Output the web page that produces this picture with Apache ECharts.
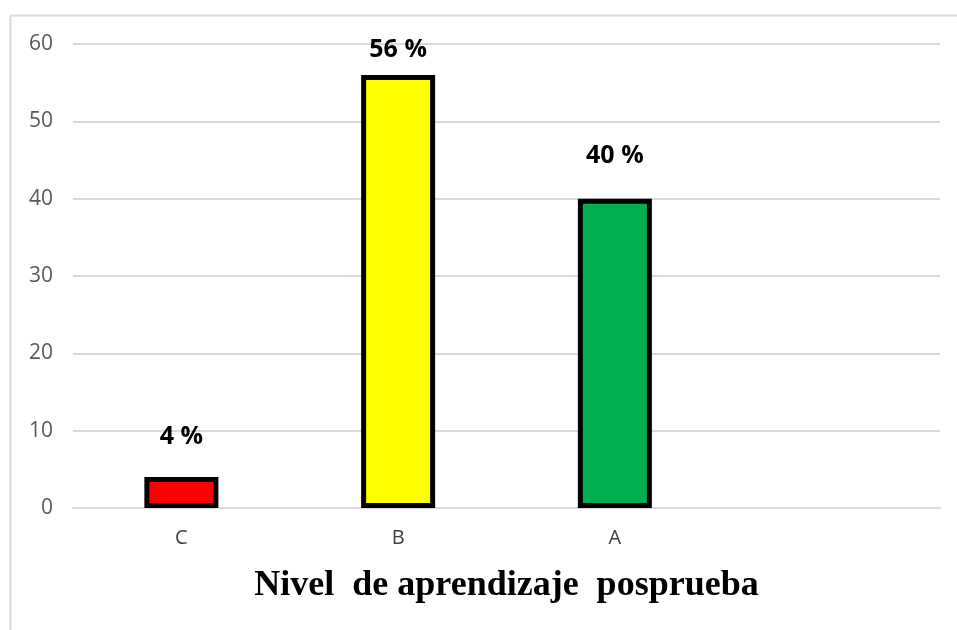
<!DOCTYPE html>
<html>
<head>
<meta charset="utf-8">
<script src="https://cdn.jsdelivr.net/npm/echarts@6/dist/echarts.min.js"></script>
<style>
html,body{margin:0;padding:0;background:#fff;}
#chart{width:957px;height:630px;}
</style>
</head>
<body>
<div id="chart"></div>
<script>
const categories = ['C', 'B', 'A', ''];
const values = [4, 56, 40, null];
const barColors = ['#FF0000', '#FFFF00', '#00B050', '#FFFFFF'];
const labelTexts = ['4 %', '56 %', '40 %', ''];
const yTicks = { min: 0, max: 60, interval: 10 };
const axisTitle = 'Nivel  de aprendizaje  posprueba';

const chart = echarts.init(document.getElementById('chart'), null, { renderer: 'canvas' });
const labelDistances = [28, 13, 30, 0];

chart.setOption({
  animation: false,
  backgroundColor: '#ffffff',
  graphic: [{
    type: 'rect',
    left: 8, top: 13,
    shape: { width: 960, height: 630 },
    style: { fill: 'none', stroke: '#D9D9D9', lineWidth: 2 },
    silent: true
  }],
  grid: { left: 73, right: 17, top: 44, bottom: 122, containLabel: false },
  xAxis: {
    type: 'category',
    data: categories,
    axisLine: { show: true, lineStyle: { color: '#D9D9D9', width: 2 } },
    axisTick: { show: false },
    axisLabel: { color: '#404040', fontSize: 20, fontFamily: 'Open Sans, Noto Sans, sans-serif', margin: 20 },
    name: axisTitle,
    nameLocation: 'middle',
    nameGap: 60,
    nameTextStyle: { color: '#000', fontSize: 36, fontWeight: 'bold', fontFamily: 'Liberation Serif, Times New Roman, serif' }
  },
  yAxis: {
    type: 'value',
    min: yTicks.min, max: yTicks.max, interval: yTicks.interval,
    axisLine: { show: false },
    axisTick: { show: false },
    axisLabel: { color: '#595959', fontSize: 21, fontFamily: 'Open Sans, Noto Sans, sans-serif', margin: 20 },
    splitLine: { lineStyle: { color: '#D9D9D9', width: 2 } }
  },
  series: [{
    type: 'bar',
    barWidth: 74,
    data: values.map((v, i) => ({
      value: v,
      itemStyle: { color: barColors[i], borderColor: '#000', borderWidth: 5 },
      label: { show: v !== null, distance: labelDistances[i], formatter: labelTexts[i] }
    })),
    label: {
      show: true,
      position: 'top',
      color: '#000',
      fontSize: 25,
      fontWeight: 'bold',
      fontFamily: 'Open Sans, Noto Sans, sans-serif'
    }
  }]
});
</script>
</body>
</html>
